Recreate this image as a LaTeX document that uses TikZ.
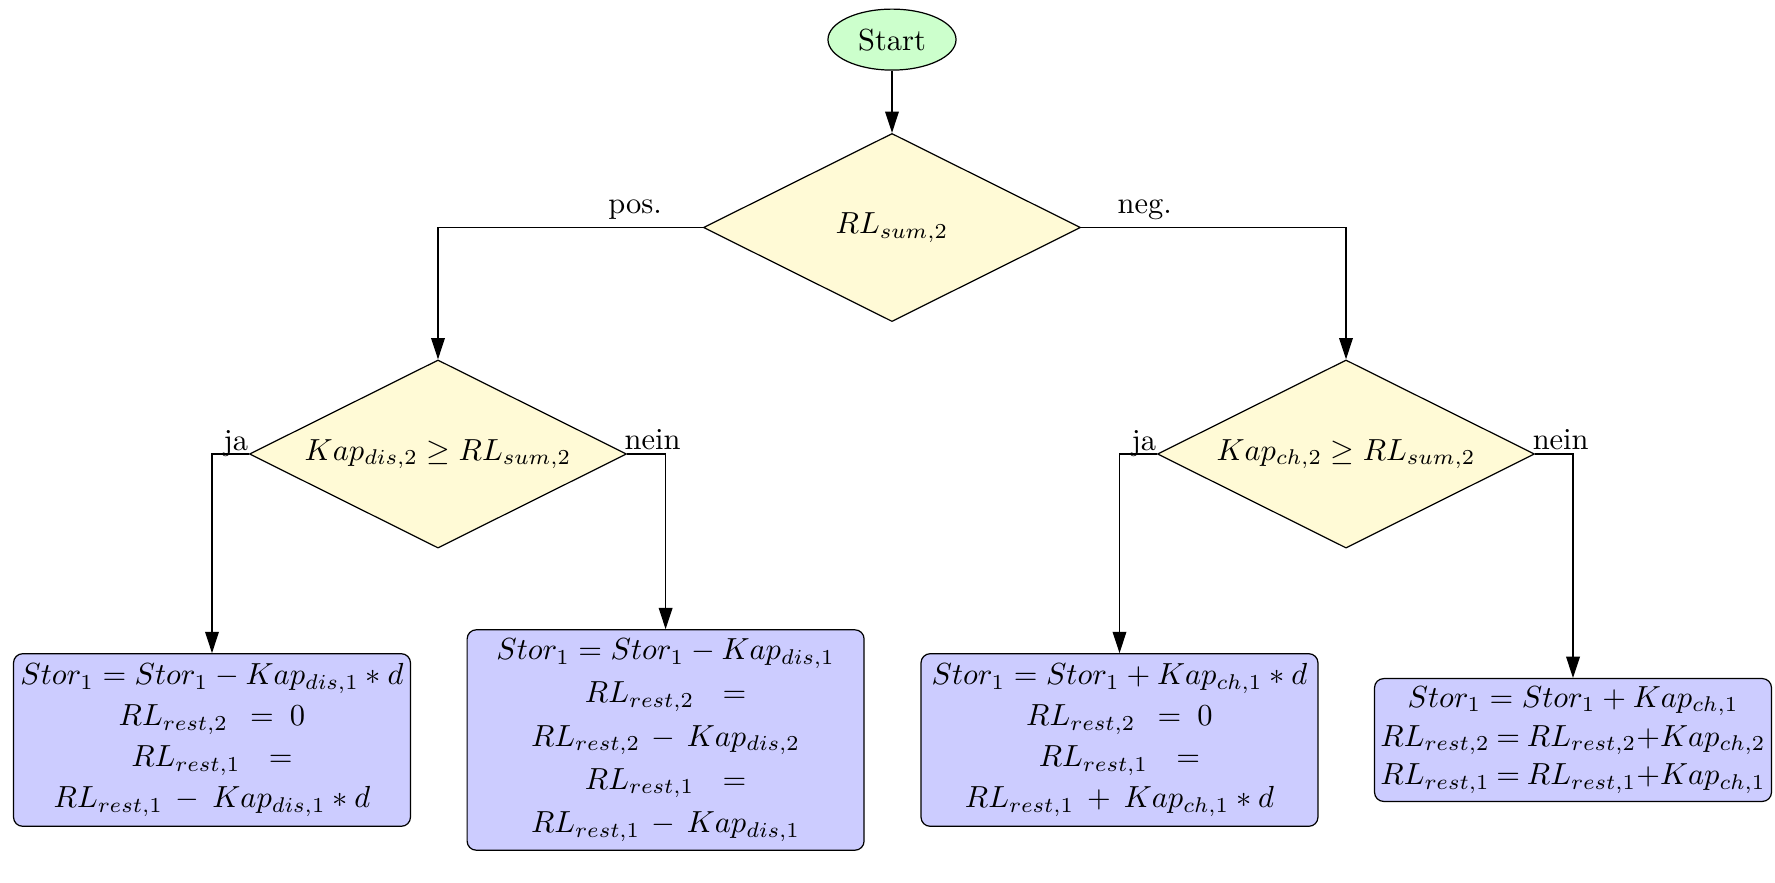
\documentclass[tikz,border=0pt]{standalone}
\usetikzlibrary{shapes.geometric,arrows.meta}
\definecolor{startgreen}{RGB}{204,255,204}
\definecolor{decyellow}{RGB}{255,250,214}
\definecolor{boxblue}{RGB}{204,204,255}
\begin{document}
\begin{tikzpicture}[x=0.328pt,y=-0.328pt,
  startnode/.style={ellipse,draw,fill=startgreen,minimum width=42pt,minimum height=20pt,inner sep=0pt},
  decision/.style={diamond,aspect=2,draw,fill=decyellow,minimum width=123.7pt,minimum height=61.7pt,inner sep=0pt},
  actionbox/.style={rectangle,rounded corners=3pt,draw,fill=boxblue,minimum width=130.2pt,inner xsep=1pt,inner ysep=3.3pt,align=center,font=\fontsize{10}{13.4}\selectfont},
  flow/.style={draw,-{Triangle[length=7pt,width=4.5pt]}},
  lbl/.style={inner sep=0pt}]
\useasboundingbox (0,0) rectangle (1775,882);
\node[startnode] (start) at (892,39.6) {Start};
\node[decision] (d0) at (892,227.5) {$RL_{sum,2}$};
\node[decision] (dL) at (438,454) {$Kap_{dis,2} \geq RL_{sum,2}$};
\node[decision] (dR) at (1346,454) {$Kap_{ch,2} \geq RL_{sum,2}$};
\node[actionbox,minimum height=56.4pt] (b1) at (212,740) {$Stor_1 = Stor_1 - Kap_{dis,1} * d$\\
$RL_{rest,2}\hspace{4.5pt}=\hspace{2.5pt}0$\\
$RL_{rest,1}\hspace{6.5pt}=$\\
$RL_{rest,1}\hspace{2pt} - \hspace{2pt}Kap_{dis,1} * d$};
\node[actionbox,minimum height=71.5pt,inner ysep=2.9pt,font=\fontsize{10}{14.2}\selectfont] (b2) at (665.6,740) {$Stor_1 = Stor_1 - Kap_{dis,1}$\\
$RL_{rest,2}\hspace{6.5pt}=$\\
$RL_{rest,2}\hspace{1.5pt} - \hspace{1.5pt}Kap_{dis,2}$\\
$RL_{rest,1}\hspace{6.5pt}=$\\
$RL_{rest,1}\hspace{1.5pt} - \hspace{1.5pt}Kap_{dis,1}$};
\node[actionbox,minimum height=56.4pt] (b3) at (1119.5,740) {$Stor_1 = Stor_1 + Kap_{ch,1} * d$\\
$RL_{rest,2}\hspace{4.5pt}=\hspace{2.5pt}0$\\
$RL_{rest,1}\hspace{6.5pt}=$\\
$RL_{rest,1}\hspace{2pt} + \hspace{2pt}Kap_{ch,1} * d$};
\node[actionbox,minimum height=40pt,inner ysep=2.6pt,font=\fontsize{10}{12.7}\selectfont] (b4) at (1573,740) {$Stor_1 = Stor_1 + Kap_{ch,1}$\\
$RL_{rest,2}\mkern-1mu=\mkern-1mu RL_{rest,2}{+}Kap_{ch,2}$\\
$RL_{rest,1}\mkern-1mu=\mkern-1mu RL_{rest,1}{+}Kap_{ch,1}$};
\draw[flow] (start) -- (d0);
\draw[flow] (d0.west) -| node[pos=0.128,above,yshift=-1pt] (lpos) {pos.} (dL.north);
\draw[flow] (d0.east) -| node[pos=0.12,above,yshift=-1pt] (lneg) {neg.} (dR.north);
\draw[flow] (dL.west) -| (b1.north);
\draw[flow] (dL.east) -| (b2.north);
\draw[flow] (dR.west) -| (b3.north);
\draw[flow] (dR.east) -| (b4.north);
\node[lbl,anchor=base east] (ljaL) at ([yshift=1pt]dL.west) {ja};
\node[lbl,anchor=base west] (lneinL) at ([yshift=1.4pt,xshift=-1pt]dL.east) {nein};
\node[lbl,anchor=base east] (ljaR) at ([yshift=1pt]dR.west) {ja};
\node[lbl,anchor=base west] (lneinR) at ([yshift=1.4pt,xshift=-1pt]dR.east) {nein};
\end{tikzpicture}
\end{document}
